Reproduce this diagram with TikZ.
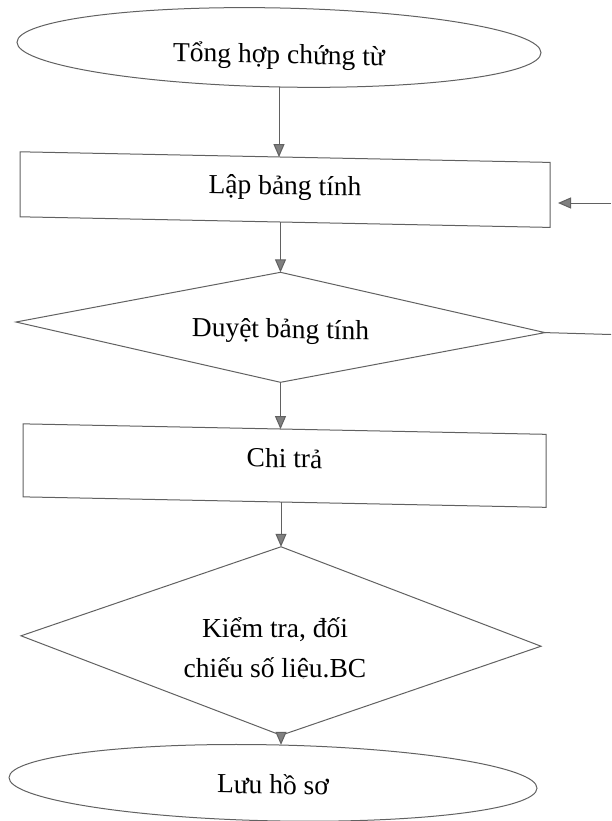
\documentclass[tikz,border=0pt]{standalone}
\usepackage{fontspec}
\setmainfont{Liberation Serif}
\usetikzlibrary{shapes.geometric,arrows.meta}
\begin{document}
\begin{tikzpicture}[x=1pt,y=-1pt,
  every node/.style={inner sep=0pt, outer sep=0pt},
  txt/.style={font=\fontsize{27.5pt}{40pt}\selectfont, text=black},
  shp/.style={draw=black!62, line width=1pt, txt},
  oval/.style={shp, ellipse},
  box/.style={shp, rectangle},
  dia/.style={shp, diamond},
  arr/.style={draw=black!62, line width=1pt, -{Triangle[length=13pt,width=11pt,fill=black!50]}},
  lin/.style={draw=black!62, line width=1pt}]
\useasboundingbox (0,0) rectangle (611,821);
\begin{scope}[shift={(280,0)}, yslant=-0.02, shift={(-280,0)}, transform shape]
  \node[oval, minimum width=524pt, minimum height=79pt, text height=32pt, text depth=0pt] (e1) at (279,47.5) {Tổng hợp chứng từ};
  \node[box, minimum width=530pt, minimum height=65pt, text height=16pt, text depth=6pt] (lap) at (285,189.5) {Lập bảng tính};
  \node[dia, minimum width=529pt, minimum height=110pt, aspect=4.8, text height=25pt, text depth=3.6pt] (duyet) at (280.5,327.3) {Duyệt bảng tính};
  \node[box, minimum width=523pt, minimum height=73pt, text height=14pt, text depth=10pt] (chi) at (284.5,465.5) {Chi trả};
  \node[dia, minimum width=520pt, minimum height=188.5pt, aspect=2.76] (kiem) at (281,641) {};
  \node[oval, minimum width=528pt, minimum height=76pt, text height=25pt, text depth=3pt] (e2) at (273,783) {Lưu hồ sơ};
\end{scope}
\begin{scope}
  \clip (100,590) rectangle (480,678.5);
  \node[txt, align=center, anchor=base] (kt) at (275,677) {Kiểm tra, đối\\chiếu số liệu.BC};
\end{scope}
\coordinate (fbin) at (611,203);
\coordinate (fbout) at (611,334.5);
\draw[arr] (e1.south) -- (e1.south |- lap.north);
\draw[arr] (duyet.north |- lap.south) -- (duyet.north);
\draw[arr] (duyet.south) -- (duyet.south |- chi.north);
\draw[arr] (kiem.north |- chi.south) -- (kiem.north);
\draw[arr] (kiem.south) -- (kiem.south |- e2.north);
\draw[arr, shorten >=8pt] (fbin) -- (fbin -| lap.east);
\draw[lin] (duyet.east) -- (fbout);
\end{tikzpicture}
\end{document}
